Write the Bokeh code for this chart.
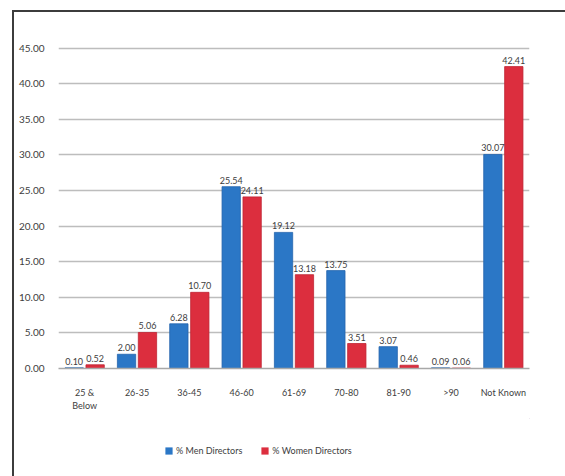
from bokeh.plotting import figure
from bokeh.layouts import column
from bokeh.models import (ColumnDataSource, Range1d, FixedTicker, Legend,
                          LegendItem, NumeralTickFormatter)
from bokeh.transform import dodge
from bokeh.core.properties import value
from bokeh.embed import file_html
from bokeh.resources import INLINE

# Age bands of company directors and the share of each gender in every band (%)
age_groups = ["25 &\nBelow", "26-35", "36-45", "46-60", "61-69",
              "70-80", "81-90", ">90", "Not Known"]
men_pct = [0.10, 2.00, 6.28, 25.54, 19.12, 13.75, 3.07, 0.09, 30.07]
women_pct = [0.52, 5.06, 10.70, 24.11, 13.18, 3.51, 0.46, 0.06, 42.41]
y_ticks = [0, 5, 10, 15, 20, 25, 30, 35, 40, 45]
series_names = ["% Men Directors", "% Women Directors"]

MEN_COLOR = "#2b77c6"
WOMEN_COLOR = "#dc2e3e"
MEN_EDGE = "#2465ad"
WOMEN_EDGE = "#bf2434"
TEXT_COLOR = "#3d3d3d"
FONT = "Lato"

source = ColumnDataSource(dict(
    age=age_groups,
    men=men_pct,
    women=women_pct,
    men_lbl=[f"{v:.2f}" for v in men_pct],
    women_lbl=[f"{v:.2f}" for v in women_pct],
))

p = figure(
    x_range=age_groups,
    y_range=Range1d(0, 46.5),
    width=551, height=406,
    output_backend="svg",
    toolbar_location=None,
    min_border_left=44, min_border_right=36,
    min_border_top=25, min_border_bottom=50,
    outline_line_color=None,
    background_fill_color="white",
    border_fill_color="white",
)

p.vbar(x=dodge("age", -0.2, range=p.x_range), top="men", width=0.35,
       source=source, fill_color=MEN_COLOR, line_color=MEN_EDGE, line_width=0.8)
p.vbar(x=dodge("age", 0.2, range=p.x_range), top="women", width=0.35,
       source=source, fill_color=WOMEN_COLOR, line_color=WOMEN_EDGE, line_width=0.8)

# value labels above each bar
for xoff, col in ((-0.2, "men"), (0.2, "women")):
    p.text(x=dodge("age", xoff, range=p.x_range), y=col, text=f"{col}_lbl",
           source=source, text_align="center", text_baseline="bottom",
           y_offset=-3, text_font=value(FONT), text_font_size="9px",
           text_color=TEXT_COLOR)

# y axis: grid lines only, no axis line or ticks
p.yaxis.ticker = FixedTicker(ticks=y_ticks)
p.yaxis.formatter = NumeralTickFormatter(format="0.00")
p.yaxis.axis_line_color = None
p.yaxis.major_tick_line_color = None
p.yaxis.minor_tick_line_color = None
p.yaxis.major_label_text_font = FONT
p.yaxis.major_label_text_font_size = "10px"
p.yaxis.major_label_text_color = TEXT_COLOR
p.yaxis.major_label_standoff = 8

p.ygrid.ticker = FixedTicker(ticks=y_ticks)
p.ygrid.grid_line_color = "#bdbdbd"
p.ygrid.grid_line_width = 1.5
p.xgrid.grid_line_color = None

# x axis: category names below the baseline
p.xaxis.axis_line_color = "#a8a8a8"
p.xaxis.axis_line_width = 1.5
p.xaxis.major_tick_line_color = None
p.xaxis.minor_tick_line_color = None
p.xaxis.major_label_text_font = FONT
p.xaxis.major_label_text_font_size = "9px"
p.xaxis.major_label_text_color = TEXT_COLOR
p.xaxis.major_label_standoff = 12

# strip underneath the chart that carries the legend
lg = figure(
    width=551, height=58,
    x_range=Range1d(0, 1), y_range=Range1d(0, 1),
    output_backend="svg",
    toolbar_location=None,
    min_border=0,
    outline_line_color=None,
    background_fill_color="white",
    border_fill_color="white",
)
lg.axis.visible = False
lg.grid.visible = False
# key swatches: zero-size, unstroked bars that only lend their colours to the legend
men_key = lg.vbar(x=[2], bottom=[2], top=[2], width=0, fill_color=MEN_COLOR,
                  line_color=None)
women_key = lg.vbar(x=[2], bottom=[2], top=[2], width=0, fill_color=WOMEN_COLOR,
                    line_color=None)

legend = Legend(
    items=[LegendItem(label=series_names[0], renderers=[men_key]),
           LegendItem(label=series_names[1], renderers=[women_key])],
    orientation="horizontal",
    location=(106, 20),
    label_text_font=FONT,
    label_text_font_size="9px",
    label_text_color=TEXT_COLOR,
    glyph_width=9, glyph_height=9,
    label_standoff=3,
    spacing=18,
    padding=8,
    margin=0,
    border_line_color=None,
    background_fill_alpha=0,
)
lg.add_layout(legend)

page = column(p, lg, spacing=0)
page.styles = {
    "margin-left": "12px",
    "margin-top": "10px",
    "border-left": "2px solid #3c3c3c",
    "border-top": "2px solid #3c3c3c",
}

open("out.html", "w").write(file_html(page, INLINE))
